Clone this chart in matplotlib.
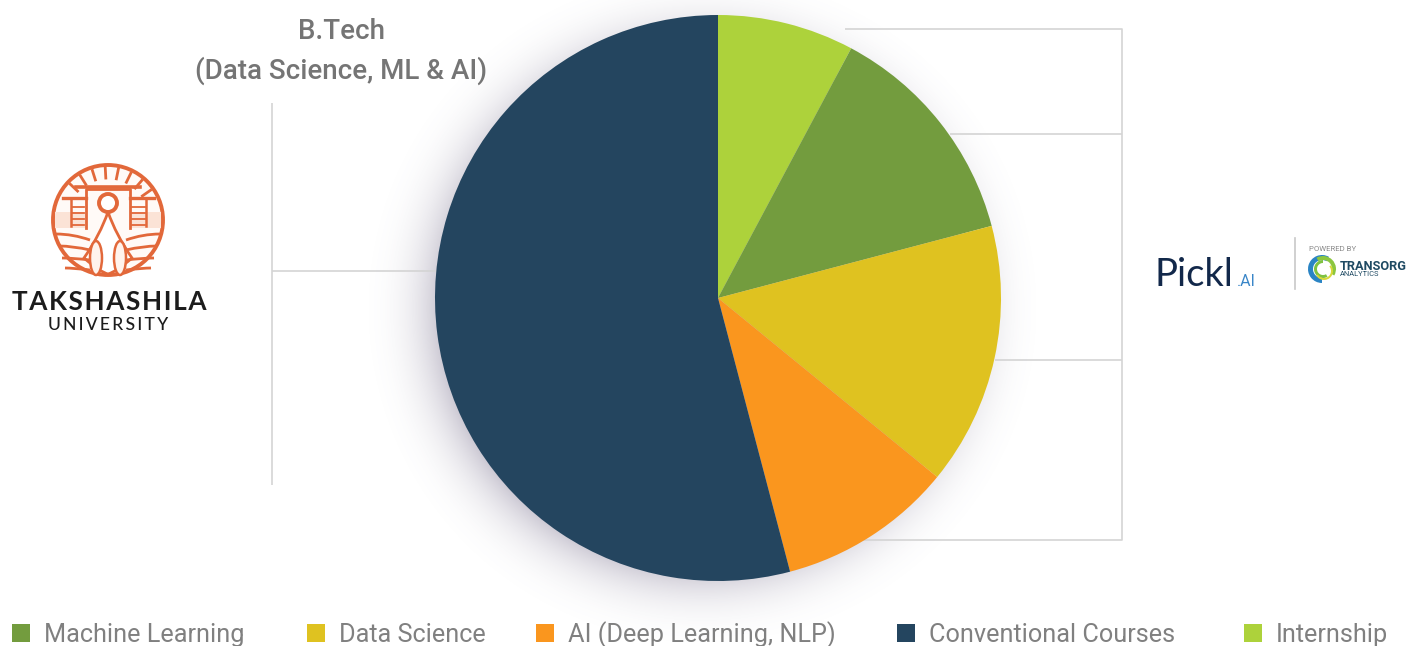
#! /usr/bin/env python
import numpy as np
import matplotlib
matplotlib.use('Agg')
import matplotlib.pyplot as plt
from matplotlib.patches import Circle, Rectangle, Wedge, Ellipse, PathPatch
from matplotlib.path import Path

plt.rcParams['font.family'] = ['Roboto', 'DejaVu Sans']

W, H = 1417, 646

# ~~~~~~~~ data ~~~~~~~~
labels = ['Internship', 'Machine Learning', 'Data Science', 'AI (Deep Learning, NLP)', 'Conventional Courses']
shares = [7.8, 13.1, 15, 10, 54.1]
colors = ['#add23b', '#739c3e', '#dfc220', '#fa961e', '#24455f']
legend_order = ['Machine Learning', 'Data Science', 'AI (Deep Learning, NLP)', 'Conventional Courses', 'Internship']
legend_x = [12, 307, 536, 897, 1244]
title_lines = ['B.Tech', '(Data Science, ML & AI)']

GREY = '#757575'
LINE = '#d4d4d4'
ORANGE = '#e2683a'
NAVY = '#12284a'


def Y(y):
    return H - y


fig = plt.figure(figsize=(W / 100, H / 100), dpi=100)
ax = fig.add_axes([0, 0, 1, 1])

# soft shadow behind the pie
xx, yy = np.meshgrid(np.arange(W), np.arange(H))
d = np.hypot(xx - 702, yy - 308) - 262
alpha = 0.38 * np.clip(1 - d / 92, 0, 1) ** 3
shadow = np.zeros((H, W, 4))
shadow[..., :3] = matplotlib.colors.to_rgb('#6f6685')
shadow[..., 3] = alpha
ax.imshow(shadow, extent=(0, W, 0, H), origin='upper', zorder=0, interpolation='bilinear')


# connector lines
def line(xs, ys):
    ax.plot(xs, [Y(v) for v in ys], color=LINE, lw=1.2, solid_capstyle='butt', zorder=1)


line([272, 272], [103, 485])
line([272, 440], [271, 271])
line([845, 1122, 1122, 860], [29, 29, 540, 540])
line([950, 1122], [134, 134])
line([995, 1122], [360, 360])

ax.pie(shares, colors=colors, startangle=90, counterclock=False, center=(718, Y(298)),
       radius=283, wedgeprops={'linewidth': 0, 'zorder': 2}, frame=False)

ax.text(341, Y(39), title_lines[0], ha='center', va='baseline', fontsize=20, fontweight='medium', color=GREY)
ax.text(341, Y(79), title_lines[1], ha='center', va='baseline', fontsize=20, fontweight='medium', color=GREY)

# legend row
for name, x in zip(legend_order, legend_x):
    c = colors[labels.index(name)]
    ax.add_patch(Rectangle((x, Y(642)), 18, 18, fc=c, ec='none', zorder=3))
    ax.text(x + 32, Y(642), name, ha='left', va='baseline', fontsize=18.2, color='#808080', zorder=3)

# Takshashila logo
cx, cy, r = 108, 220, 55
ax.add_patch(Circle((cx, Y(cy)), r, fc='#fffaf7', ec=ORANGE, lw=2.8, zorder=3))
for a in np.arange(35, 150, 14.5):
    t = np.radians(a)
    ax.plot([cx + 42 * np.cos(t), cx + 52 * np.cos(t)], [Y(cy) + 42 * np.sin(t), Y(cy) + 52 * np.sin(t)],
            color=ORANGE, lw=2, zorder=4)
ax.add_patch(Rectangle((55, Y(228)), 31, 16, fc='#fbe3d6', ec='none', zorder=3))
ax.add_patch(Rectangle((130, Y(228)), 31, 16, fc='#fbe3d6', ec='none', zorder=3))
ax.plot([76, 140], [Y(187), Y(187)], color=ORANGE, lw=2.6, zorder=4)
ax.plot([86, 86, 130, 130], [Y(228), Y(189), Y(189), Y(228)], color=ORANGE, lw=2, zorder=4)
ax.plot([63, 86], [Y(198), Y(198)], color=ORANGE, lw=2.4, zorder=4)
ax.plot([130, 154], [Y(198), Y(198)], color=ORANGE, lw=2.4, zorder=4)
ax.plot([71, 71], [Y(199), Y(226)], color=ORANGE, lw=1.8, zorder=4)
ax.plot([146, 146], [Y(199), Y(226)], color=ORANGE, lw=1.8, zorder=4)
for v in [207, 213, 219, 225]:
    ax.plot([72, 84], [Y(v), Y(v)], color=ORANGE, lw=1.3, zorder=4)
    ax.plot([132, 145], [Y(v), Y(v)], color=ORANGE, lw=1.3, zorder=4)
body = Path([(108, Y(212)), (100, Y(235)), (84, Y(258)), (100, Y(272)), (108, Y(274)),
             (116, Y(272)), (132, Y(258)), (116, Y(235)), (108, Y(212))],
            [Path.MOVETO, Path.CURVE3, Path.CURVE3, Path.CURVE3, Path.CURVE3,
             Path.CURVE3, Path.CURVE3, Path.CURVE3, Path.CURVE3])
ax.add_patch(PathPatch(body, fc='white', ec=ORANGE, lw=2, zorder=4))
ax.add_patch(Circle((108, Y(203)), 9, fc='white', ec=ORANGE, lw=2.8, zorder=5))
for s in (-1, 1):
    for off, end in [(0, 228), (10, 240), (20, 252), (30, 262)]:
        p = Path([(cx + s * 18, Y(240 + off)), (cx + s * 35, Y(end + 6)), (cx + s * (52 - off * 0.3), Y(end + 6))],
                 [Path.MOVETO, Path.CURVE3, Path.CURVE3])
        ax.add_patch(PathPatch(p, fc='none', ec=ORANGE, lw=2, zorder=4))
    ax.add_patch(Ellipse((cx + s * 12, Y(258)), 12, 34, fc='#fff3ec', ec=ORANGE, lw=1.8, zorder=5))
ax.text(109, Y(310), '\u200a'.join('TAKSHASHILA'), ha='center', va='baseline', fontsize=18.8, color='#1c1c1c',
        family=['Lato', 'DejaVu Sans'], fontweight='bold', zorder=4)
ax.text(108, Y(330), '\u2009'.join('UNIVERSITY'), ha='center', va='baseline', fontsize=12.6, color='#1c1c1c',
        family=['Lato', 'DejaVu Sans'], fontweight='medium', zorder=4)

# Pickl.AI logo
ax.text(1155, Y(286), 'Pickl', ha='left', va='baseline', fontsize=27.5, color=NAVY,
        family=['Lato', 'DejaVu Sans'], zorder=4)
ax.text(1237, Y(286), '.AI', ha='left', va='baseline', fontsize=11.5, color='#3a86c8', zorder=4)
ax.plot([1295, 1295], [Y(238), Y(289)], color='#c8c8c8', lw=1.2, zorder=4)
ax.text(1309, Y(249), 'POWERED BY', ha='left', va='center', fontsize=5.6, color='#8a8a8a', zorder=4)
ax.add_patch(Wedge((1322, Y(269)), 14, 60, 270, width=5, fc='#2a84c4', ec='none', zorder=4))
ax.add_patch(Wedge((1323, Y(269)), 13, -30, 120, width=4, fc='#8cc63f', ec='none', zorder=4))
ax.add_patch(Wedge((1323, Y(269)), 9, 90, 300, width=3, fc='#7fc241', ec='none', zorder=4))
ax.add_patch(Wedge((1324, Y(271)), 9, 210, 40, width=2, fc='#d8d83a', ec='none', zorder=4))
ax.text(1340, Y(266), 'TRANSORG', ha='left', va='center', fontsize=9.2, fontweight='bold', color='#1f4a63', zorder=4)
ax.text(1340, Y(275), 'ANALYTICS', ha='left', va='center', fontsize=5.4, color='#1f4a63', zorder=4)

ax.set_xlim(0, W)
ax.set_ylim(0, H)
ax.set_aspect('auto')
ax.axis('off')
fig.savefig('out.png', dpi=100, facecolor='white')
